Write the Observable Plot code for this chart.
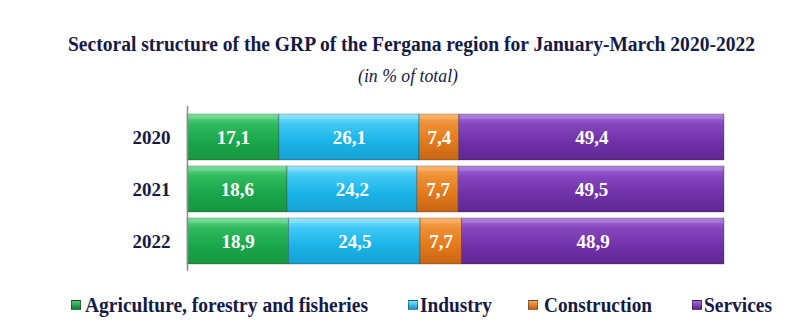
<!DOCTYPE html>
<html><head><meta charset="utf-8">
<script src="https://cdn.jsdelivr.net/npm/d3@7"></script>
<script src="https://cdn.jsdelivr.net/npm/@observablehq/plot@0.6"></script>
<style>
body{margin:0;background:#fff;}
#wrap{position:relative;width:800px;height:331px;overflow:hidden;font-family:"Liberation Serif","Times New Roman",serif;color:#141a45;}
.fit{position:absolute;white-space:nowrap;line-height:1;transform-origin:0 0;}
.mk{position:absolute;width:10px;height:10px;box-sizing:border-box;}
#chart{position:absolute;left:0;top:95px;}
</style></head><body><div id="wrap"><div id="chart"></div></div>
<script>
const years = ["2020", "2021", "2022"];
const sectors = ["Agriculture, forestry and fisheries", "Industry", "Construction", "Services"];
const agriculture = [17.1, 18.6, 18.9];
const industry = [26.1, 24.2, 24.5];
const construction = [7.4, 7.7, 7.7];
const services = [49.4, 49.5, 48.9];
const titleText = "Sectoral structure of the GRP of the Fergana region for January-March 2020-2022";
const subtitleText = "(in % of total)";

const gradStops = [
  [["0", "#6bdc93"], ["0.22", "#2fba5d"], ["0.6", "#1aa64b"], ["1", "#17963f"]],
  [["0", "#8ae4fc"], ["0.22", "#3fc8f4"], ["0.6", "#1ab4e8"], ["1", "#16a0d2"]],
  [["0", "#f8ad5e"], ["0.22", "#ee8f33"], ["0.6", "#e27a1c"], ["1", "#c86514"]],
  [["0", "#a872da"], ["0.22", "#8646bf"], ["0.6", "#7032a8"], ["1", "#602792"]]
];
const markerCss = [
  "linear-gradient(#4cc873,#157a35)",
  "linear-gradient(#7fe0fb,#1397c8)",
  "linear-gradient(#f6a85a,#c35f10)",
  "linear-gradient(#a56cd8,#5a2390)"
];

const wrap = document.getElementById("wrap");
function fitText(text, left, top, targetW, font) {
  const s = document.createElement("span");
  s.className = "fit";
  s.textContent = text;
  s.style.font = font;
  s.style.left = left + "px";
  s.style.top = top + "px";
  wrap.appendChild(s);
  const w = s.getBoundingClientRect().width;
  s.style.transform = `scaleX(${targetW / w})`;
  return s;
}
fitText(titleText, 68, 33, 687, "bold 20px 'Liberation Serif', serif");
fitText(subtitleText, 358, 66, 100, "italic 18px 'Liberation Serif', serif");

const legendPos = [[71, 85, 283], [408, 420, 72], [528, 544, 108], [692, 704, 68]];
sectors.forEach((s, i) => {
  const m = document.createElement("div");
  m.className = "mk";
  m.style.left = legendPos[i][0] + "px";
  m.style.top = "300px";
  m.style.background = markerCss[i];
  m.style.border = "1px solid rgba(0,0,0,0.35)";
  wrap.appendChild(m);
  fitText(s, legendPos[i][1], 294, legendPos[i][2], "bold 20px 'Liberation Serif', serif");
});

const values = [agriculture, industry, construction, services];
const data = years.flatMap((y, i) => sectors.map((s, j) => ({year: y, sector: s, value: values[j][i]})));
const fmt = v => v.toFixed(1).replace(".", ",");

const plot = Plot.plot({
  width: 800, height: 190,
  marginLeft: 187, marginRight: 76, marginTop: 11, marginBottom: 14,
  style: {fontFamily: "'Liberation Serif', serif", fontSize: "19px", fontWeight: "bold", color: "#141a45", background: "transparent"},
  x: {domain: [0, 100], axis: null},
  y: {domain: years, padding: 0.12, tickSize: 0, tickPadding: 17, label: null},
  color: {domain: sectors, range: sectors.map((s, i) => `url(#grad${i})`)},
  marks: [
    Plot.barX(data, {x: "value", y: "year", fill: "sector", stroke: "rgba(0,0,0,0.3)", strokeWidth: 0.8}),
    Plot.barX(data, {x: "value", y: "year", fill: "white", fillOpacity: 0.12, insetBottom: 41, insetLeft: 1, insetRight: 1}),
    Plot.text(data, Plot.stackX({x: "value", y: "year", text: d => fmt(d.value), fill: "white", fontSize: 19, fontWeight: "bold"})),
    Plot.ruleX([0], {stroke: "#8c8c8c", strokeWidth: 1.5})
  ]
});

const ns = "http://www.w3.org/2000/svg";
const defs = document.createElementNS(ns, "defs");
gradStops.forEach((stops, i) => {
  const g = document.createElementNS(ns, "linearGradient");
  g.setAttribute("id", "grad" + i);
  g.setAttribute("x1", "0"); g.setAttribute("y1", "0");
  g.setAttribute("x2", "0"); g.setAttribute("y2", "1");
  stops.forEach(([o, c]) => {
    const st = document.createElementNS(ns, "stop");
    st.setAttribute("offset", o);
    st.setAttribute("stop-color", c);
    g.appendChild(st);
  });
  defs.appendChild(g);
});
plot.insertBefore(defs, plot.firstChild);
document.getElementById("chart").appendChild(plot);
</script>
</body></html>
